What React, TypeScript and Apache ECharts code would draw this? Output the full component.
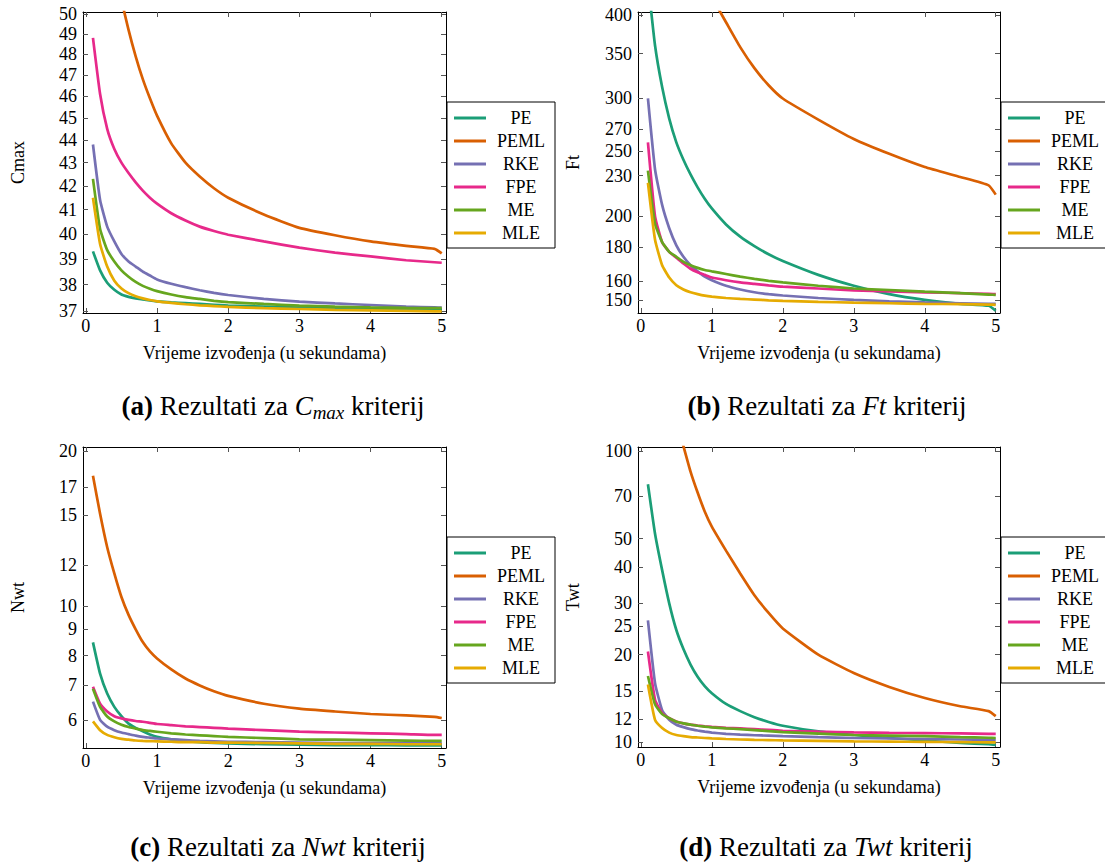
import React, { useEffect, useRef } from "react";
import * as echarts from "echarts";

// ---- data ----
const SERIES_NAMES = ["PE", "PEML", "RKE", "FPE", "ME", "MLE"];
const COLORS = ["#1b9e77", "#d95f02", "#7570b3", "#e7298a", "#66a61e", "#e6ab02"];
const X = [0.1, 0.2, 0.3, 0.4, 0.5, 0.6, 0.7, 0.8, 0.9, 1.0, 1.2, 1.4, 1.6, 1.8, 2.0, 2.5, 3.0, 3.5, 4.0, 4.5, 4.9, 5.0];
const xTicks = [0, 1, 2, 3, 4, 5];

// (a) Cmax
const cmaxTicks = [37, 38, 39, 40, 41, 42, 43, 44, 45, 46, 47, 48, 49, 50];
const cmaxPE = [39.3, 38.55, 38.07, 37.8, 37.62, 37.53, 37.47, 37.43, 37.39, 37.36, 37.32, 37.29, 37.26, 37.23, 37.2, 37.16, 37.12, 37.1, 37.07, 37.05, 37.04, 37.04];
const cmaxPEML = [80, 66, 58, 53.5, 50.8, 49.2, 47.9, 46.8, 45.9, 45.1, 43.85, 43.0, 42.4, 41.9, 41.5, 40.8, 40.25, 39.95, 39.7, 39.52, 39.4, 39.22];
const cmaxRKE = [43.8, 41.4, 40.3, 39.7, 39.2, 38.9, 38.7, 38.5, 38.35, 38.2, 38.03, 37.9, 37.78, 37.68, 37.6, 37.45, 37.35, 37.28, 37.22, 37.16, 37.13, 37.12];
const cmaxFPE = [48.8, 46.1, 44.5, 43.6, 43.0, 42.55, 42.15, 41.8, 41.5, 41.25, 40.85, 40.55, 40.3, 40.12, 39.97, 39.7, 39.45, 39.25, 39.1, 38.95, 38.87, 38.85];
const cmaxME = [42.3, 40.2, 39.35, 38.9, 38.55, 38.3, 38.1, 37.95, 37.84, 37.75, 37.62, 37.52, 37.45, 37.38, 37.33, 37.26, 37.2, 37.16, 37.13, 37.11, 37.1, 37.1];
const cmaxMLE = [41.5, 39.6, 38.7, 38.15, 37.85, 37.67, 37.55, 37.47, 37.41, 37.36, 37.3, 37.25, 37.21, 37.18, 37.15, 37.1, 37.07, 37.04, 37.02, 37.0, 36.98, 36.98];

// (b) Ft
const ftTicks = [150, 160, 180, 200, 230, 250, 270, 300, 350, 400];
const ftPE = [450, 360, 312, 280, 258, 243, 231, 221, 212.5, 205.5, 194.5, 186.5, 180.5, 175.5, 171.5, 163.5, 157.5, 153, 150, 148, 147, 144.5];
const ftPEML = [900, 750, 650, 590, 545, 510, 483, 460, 441, 425, 390, 358, 333, 314, 300, 279, 261, 248, 237, 229, 222.5, 215.5];
const ftRKE = [300, 235, 208, 192, 181, 174, 169, 165.5, 162.5, 160.5, 157.5, 155.5, 154, 153, 152.3, 151, 150, 149.3, 148.7, 148.3, 148, 148];
const ftFPE = [258, 200, 183, 177, 173.5, 170, 167, 165, 163.5, 162, 160.5, 159.3, 158.5, 157.7, 157, 156, 155, 154.5, 154, 153.5, 153.2, 153];
const ftME = [234, 195, 183, 177, 174, 171, 169, 167.5, 166.3, 165.5, 164, 162.5, 161.3, 160.2, 159.3, 157.5, 156, 155.2, 154.3, 153.5, 152.8, 152.6];
const ftMLE = [224.5, 184.5, 169, 162, 157.8, 155.5, 154, 153, 152.2, 151.7, 151, 150.5, 150.2, 149.8, 149.5, 149, 148.6, 148.3, 148, 147.8, 147.6, 147.5];

// (c) Nwt
const nwtTicks = [6, 7, 8, 9, 10, 12, 15, 17, 20];
const nwtPE = [8.49, 7.38, 6.75, 6.36, 6.1, 5.9, 5.79, 5.7, 5.62, 5.56, 5.5, 5.46, 5.43, 5.41, 5.4, 5.38, 5.37, 5.36, 5.36, 5.35, 5.35, 5.35];
const nwtPEML = [17.9, 15.1, 13.0, 11.56, 10.4, 9.6, 9.0, 8.5, 8.15, 7.9, 7.52, 7.22, 7.0, 6.82, 6.68, 6.45, 6.31, 6.23, 6.16, 6.12, 6.08, 6.05];
const nwtRKE = [6.51, 6.0, 5.82, 5.73, 5.67, 5.63, 5.59, 5.56, 5.54, 5.52, 5.5, 5.48, 5.46, 5.45, 5.44, 5.43, 5.42, 5.41, 5.41, 5.4, 5.4, 5.4];
const nwtFPE = [6.96, 6.45, 6.23, 6.1, 6.04, 6.0, 5.97, 5.95, 5.92, 5.89, 5.86, 5.83, 5.81, 5.79, 5.77, 5.73, 5.69, 5.67, 5.65, 5.63, 5.61, 5.61];
const nwtME = [6.9, 6.36, 6.09, 5.96, 5.87, 5.81, 5.77, 5.73, 5.71, 5.69, 5.65, 5.62, 5.6, 5.58, 5.56, 5.53, 5.5, 5.49, 5.48, 5.47, 5.46, 5.46];
const nwtMLE = [5.96, 5.73, 5.61, 5.55, 5.51, 5.49, 5.47, 5.46, 5.455, 5.45, 5.44, 5.43, 5.43, 5.42, 5.42, 5.41, 5.4, 5.39, 5.39, 5.38, 5.38, 5.38];

// (d) Twt
const twtTicks = [10, 12, 15, 20, 25, 30, 40, 50, 70, 100];
const twtPE = [76.9, 52, 39, 30, 24.3, 20.9, 18.5, 16.8, 15.6, 14.75, 13.55, 12.8, 12.2, 11.75, 11.4, 10.9, 10.6, 10.35, 10.15, 9.95, 9.85, 9.8];
const twtPEML = [400, 260, 190, 150, 128, 104, 85, 72, 62, 55, 45.5, 38, 32, 27.8, 24.6, 20, 17.3, 15.5, 14.2, 13.3, 12.8, 12.3];
const twtRKE = [26.2, 15.96, 12.9, 11.95, 11.5, 11.28, 11.1, 10.98, 10.88, 10.8, 10.7, 10.63, 10.58, 10.54, 10.5, 10.42, 10.35, 10.31, 10.27, 10.23, 10.2, 10.2];
const twtFPE = [20.5, 14.0, 12.6, 12.1, 11.8, 11.62, 11.5, 11.42, 11.35, 11.3, 11.22, 11.16, 11.1, 11.04, 10.96, 10.88, 10.82, 10.78, 10.76, 10.73, 10.7, 10.7];
const twtME = [16.9, 13.5, 12.5, 12.1, 11.77, 11.62, 11.5, 11.4, 11.32, 11.26, 11.17, 11.1, 11.02, 10.93, 10.85, 10.72, 10.6, 10.55, 10.5, 10.42, 10.37, 10.35];
const twtMLE = [15.8, 11.95, 11.2, 10.8, 10.6, 10.5, 10.43, 10.39, 10.35, 10.32, 10.27, 10.23, 10.2, 10.18, 10.16, 10.12, 10.08, 10.06, 10.04, 10.02, 10.0, 10.0];

const xAxisTitle = "Vrijeme izvođenja (u sekundama)";

// ---- layout ----
const FONT = "Liberation Serif";

const panels = [
  {
    grid: { left: 83, top: 12, width: 363, height: 301 },
    yName: "Cmax", yRange: [36.92, 50.1], ticks: cmaxTicks,
    values: [cmaxPE, cmaxPEML, cmaxRKE, cmaxFPE, cmaxME, cmaxMLE],
    legend: { left: 447, top: 102 },
    caption: { x: 273, y: 406, text: "{b|(a)} Rezultati za {i|C}{s|max} kriterij" },
  },
  {
    grid: { left: 638, top: 12, width: 362, height: 301 },
    yName: "Ft", yRange: [143.4, 404], ticks: ftTicks,
    values: [ftPE, ftPEML, ftRKE, ftFPE, ftME, ftMLE],
    legend: { left: 1001, top: 102 },
    caption: { x: 827, y: 406, text: "{b|(b)} Rezultati za {i|Ft} kriterij" },
  },
  {
    grid: { left: 83, top: 447, width: 363, height: 301 },
    yName: "Nwt", yRange: [5.29, 20.36], ticks: nwtTicks,
    values: [nwtPE, nwtPEML, nwtRKE, nwtFPE, nwtME, nwtMLE],
    legend: { left: 447, top: 537 },
    caption: { x: 278, y: 847, text: "{b|(c)} Rezultati za {i|Nwt} kriterij" },
  },
  {
    grid: { left: 638, top: 447, width: 362, height: 300 },
    yName: "Twt", yRange: [9.64, 103.2], ticks: twtTicks,
    values: [twtPE, twtPEML, twtRKE, twtFPE, twtME, twtMLE],
    legend: { left: 1001, top: 537 },
    caption: { x: 826, y: 847, text: "{b|(d)} Rezultati za {i|Twt} kriterij" },
  },
];

function buildOption() {
  const grid: any[] = [];
  const xAxis: any[] = [];
  const yAxis: any[] = [];
  const series: any[] = [];
  const legend: any[] = [];
  const graphic: any[] = [];
  const tickStyle = { show: true, inside: true, length: 5, lineStyle: { color: "#555", width: 1 } };
  const lineStyle = { show: true, onZero: false, lineStyle: { color: "#000", width: 1 } };

  panels.forEach((p, k) => {
    grid.push({ ...p.grid, containLabel: false, outerBoundsMode: "none" });
    const logTicks = p.ticks.map((t) => Math.log10(t));
    const yMin = Math.log10(p.yRange[0]);
    const yMax = Math.log10(p.yRange[1]);
    const fmt = (v: number) => String(Math.round(Math.pow(10, v)));
    xAxis.push({
      type: "value", gridIndex: k, position: "bottom", min: -0.04, max: 5.06,
      axisLine: lineStyle,
      axisTick: { ...tickStyle, customValues: xTicks },
      axisLabel: { customValues: xTicks, fontFamily: FONT, fontSize: 18, color: "#000", margin: 4 },
      splitLine: { show: false },
      name: xAxisTitle, nameLocation: "middle", nameGap: 31,
      nameTextStyle: { fontFamily: FONT, fontSize: 18, color: "#000" },
    });
    xAxis.push({
      type: "value", gridIndex: k, position: "top", min: -0.04, max: 5.06,
      axisLine: lineStyle,
      axisTick: { ...tickStyle, customValues: xTicks },
      axisLabel: { show: false },
      splitLine: { show: false },
    });
    yAxis.push({
      type: "value", gridIndex: k, position: "left", min: yMin, max: yMax,
      axisLine: lineStyle,
      axisTick: { ...tickStyle, customValues: logTicks },
      axisLabel: { customValues: logTicks, formatter: fmt, fontFamily: FONT, fontSize: 18, color: "#000", margin: 6 },
      splitLine: { show: false },
      name: p.yName, nameLocation: "middle", nameGap: 56,
      nameTextStyle: { fontFamily: FONT, fontSize: 18, color: "#000" },
    });
    yAxis.push({
      type: "value", gridIndex: k, position: "right", min: yMin, max: yMax,
      axisLine: lineStyle,
      axisTick: { ...tickStyle, customValues: logTicks },
      axisLabel: { show: false },
      splitLine: { show: false },
    });
    SERIES_NAMES.forEach((name, s) => {
      series.push({
        type: "line", name, xAxisIndex: 2 * k, yAxisIndex: 2 * k,
        data: X.map((x, i) => [x, Math.log10(p.values[s][i])]),
        showSymbol: false, symbol: "none", smooth: 0.15, clip: true,
        lineStyle: { color: COLORS[s], width: 2.7 },
        itemStyle: { color: COLORS[s] },
      });
    });
    legend.push({
      left: p.legend.left, top: p.legend.top, orient: "vertical",
      data: SERIES_NAMES.map((n, s) => ({ name: n, itemStyle: { color: COLORS[s] } })),
      icon: "rect", itemWidth: 32, itemHeight: 3, itemGap: 5,
      padding: [7, 4, 6, 7], borderColor: "#000", borderWidth: 1, backgroundColor: "#fff",
      selectedMode: false,
      formatter: "{c|{name}}",
      textStyle: {
        fontFamily: FONT, fontSize: 18, color: "#000",
        rich: { c: { width: 60, align: "center", fontFamily: FONT, fontSize: 18, lineHeight: 18 } },
      },
    });
    graphic.push({
      type: "text", x: p.caption.x, y: p.caption.y,
      style: {
        text: p.caption.text, align: "center", verticalAlign: "middle",
        fontFamily: FONT, fontSize: 27, lineHeight: 32, fill: "#000",
        rich: {
          b: { fontFamily: FONT, fontSize: 27, fontWeight: "bold", lineHeight: 32 },
          i: { fontFamily: FONT, fontSize: 27, fontStyle: "italic", lineHeight: 32 },
          s: { fontFamily: FONT, fontSize: 19, fontStyle: "italic", lineHeight: 14, verticalAlign: "bottom" },
        },
      },
    });
  });

  return {
    animation: false,
    backgroundColor: "#fff",
    textStyle: { fontFamily: FONT },
    grid, xAxis, yAxis, series, legend, graphic,
  };
}

export default function App() {
  const ref = useRef<HTMLDivElement>(null);
  useEffect(() => {
    if (!ref.current) return;
    const chart = echarts.init(ref.current, undefined, { renderer: "svg" });
    chart.setOption(buildOption() as any);
    return () => chart.dispose();
  }, []);
  return (
    <div
      ref={ref}
      style={{ position: "absolute", left: 0, top: 0, width: 1105, height: 863 }}
    />
  );
}
